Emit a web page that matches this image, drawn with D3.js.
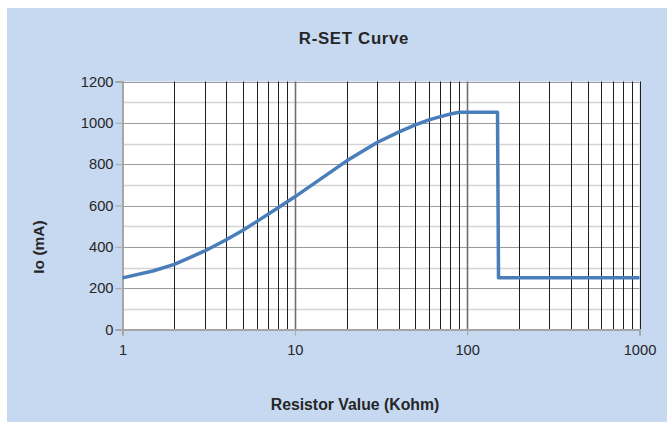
<!DOCTYPE html>
<html><head><meta charset="utf-8">
<script src="https://cdn.jsdelivr.net/npm/d3@7"></script>
<style>body{margin:0;background:#fff}svg{display:block}text{font-family:"Liberation Sans",Arial,sans-serif}</style>
</head><body><svg id="c" width="667" height="424"></svg>
<script>
const resistance = [1, 1.5, 2, 3, 4, 5, 6, 8, 10, 20, 30, 40, 50, 60, 70, 80, 90, 150, 152, 1000];
const current    = [250, 283, 315, 380, 434, 480, 522, 589, 642, 816, 905, 955, 990, 1014, 1030, 1043, 1051, 1051, 250, 250];
const yTicks = [0, 200, 400, 600, 800, 1000, 1200];
const xTicks = [1, 10, 100, 1000];
const title = "R-SET Curve", xTitle = "Resistor Value (Kohm)", yTitle = "Io (mA)";

const svg = d3.select("#c");
svg.append("rect").attr("x",7).attr("y",8).attr("width",660).attr("height",414).attr("fill","#c6d9f1");
const L=122.5, R=639.5, T=81.5, B=329.5;
const x = d3.scaleLog().domain([1,1000]).range([L,R]);
const y = d3.scaleLinear().domain([0,1200]).range([B,T]);
svg.append("rect").attr("x",L).attr("y",T).attr("width",R-L).attr("height",B-T).attr("fill","#fff");

// horizontal grid
const hg = d3.range(100,1201,100);
svg.append("g").selectAll("line").data(hg).join("line")
  .attr("x1",L).attr("x2",R).attr("y1",d=>Math.round(y(d))+0.5).attr("y2",d=>Math.round(y(d))+0.5)
  .attr("stroke",d=>d%200===0?"#9a9a9a":"#d4d4d4").attr("stroke-width",d=>d%200===0?1.2:1.5);
// vertical grid
const vg = [];
[1,10,100].forEach(dec=>{for(let k=2;k<=10;k++) vg.push(dec*k);});
svg.append("g").selectAll("line").data(vg).join("line")
  .attr("y1",T).attr("y2",B).attr("x1",d=>Math.round(x(d))+0.5).attr("x2",d=>Math.round(x(d))+0.5)
  .attr("stroke",d=>(d===10||d===100)?"#6e6e6e":"#1e1e1e").attr("stroke-width",d=>(d===10||d===100)?1.6:1);

const fam = "'Liberation Sans',Arial,sans-serif";
// axes
const ya = svg.append("g").attr("transform",`translate(${L},0)`)
  .call(d3.axisLeft(y).tickValues(yTicks).tickFormat(d3.format("d")).tickSize(7).tickPadding(2));
ya.select(".domain").attr("stroke","#a6a6a6").attr("stroke-width",2);
ya.selectAll(".tick line").attr("stroke","#a6a6a6");
ya.selectAll("text").attr("font-size",14.7).attr("fill","#262626").style("font-family",fam);
const xa = svg.append("g").attr("transform",`translate(0,${B})`)
  .call(d3.axisBottom(x).tickValues(xTicks).tickFormat(d3.format("d")).tickSize(6).tickPadding(9));
xa.select(".domain").attr("stroke","#a6a6a6").attr("stroke-width",2);
xa.selectAll(".tick line").attr("stroke","#a6a6a6");
xa.selectAll("text").attr("font-size",14.7).attr("fill","#262626").style("font-family",fam);

// curve
const pts = resistance.map((r,i)=>[r,current[i]]);
svg.append("path").datum(pts)
  .attr("d",d3.line().x(d=>x(d[0])).y(d=>y(d[1])))
  .attr("fill","none").attr("stroke","#4a7ebb").attr("stroke-width",3.5).attr("stroke-linejoin","round");

svg.append("text").attr("x",354).attr("y",44).attr("text-anchor","middle")
  .attr("font-size",16.8).attr("letter-spacing","0.7px").attr("font-weight","bold").attr("fill","#262626").text(title);
svg.append("text").attr("x",355).attr("y",410).attr("text-anchor","middle")
  .attr("font-size",15.8).attr("font-weight","bold").attr("fill","#262626").text(xTitle);
svg.append("text").attr("transform","translate(44,247) rotate(-90)").attr("text-anchor","middle")
  .attr("font-size",15.5).attr("font-weight","bold").attr("fill","#262626").text(yTitle);
</script></body></html>
